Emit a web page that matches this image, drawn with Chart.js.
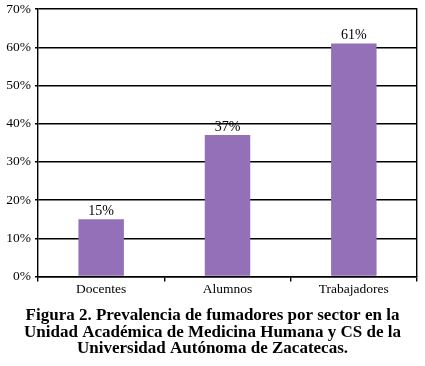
<!DOCTYPE html>
<html>
<head>
<meta charset="utf-8">
<script src="https://cdn.jsdelivr.net/npm/chart.js@4"></script>
<style>
  html, body { margin: 0; padding: 0; background: #fff; }
  #wrap { width: 425px; height: 366px; }
</style>
</head>
<body>
<div id="wrap"><canvas id="myChart" width="425" height="366"></canvas></div>
<script>
// Chart data
const sectors = ["Docentes", "Alumnos", "Trabajadores"];
const smokers = [15, 37, 61];
const yTicks = [0, 10, 20, 30, 40, 50, 60, 70];
const caption = [
  "Figura 2. Prevalencia de fumadores por sector en la",
  "Unidad Académica de Medicina Humana y CS de la",
  "Universidad Autónoma de Zacatecas."
];

const serif = "'Liberation Serif', 'Times New Roman', serif";

// draws "15%" etc. above each bar
const valueLabels = {
  id: "valueLabels",
  afterDatasetsDraw(chart) {
    const ctx = chart.ctx;
    const meta = chart.getDatasetMeta(0);
    ctx.save();
    ctx.font = "14px " + serif;
    ctx.fillStyle = "#000";
    ctx.textAlign = "center";
    ctx.textBaseline = "alphabetic";
    meta.data.forEach((bar, i) => {
      ctx.fillText(smokers[i] + "%", bar.x, bar.y - 4);
    });
    ctx.restore();
  },
};

const ctx = document.getElementById("myChart").getContext("2d");

new Chart(ctx, {
  type: "bar",
  data: {
    labels: sectors,
    datasets: [
      {
        data: smokers,
        backgroundColor: "#9370b7",
        borderWidth: 0,
        categoryPercentage: 1,
        barPercentage: 0.36,
      },
    ],
  },
  options: {
    responsive: false,
    animation: false,
    layout: { padding: { top: 0, left: 0, right: 0, bottom: 4 } },
    plugins: {
      legend: { display: false },
      tooltip: { enabled: false },
      title: {
        display: true,
        position: "bottom",
        text: caption,
        color: "#000",
        font: { family: serif, size: 17, weight: "bold", lineHeight: 0.97 },
        padding: { top: 9, bottom: 5 },
      },
    },
    scales: {
      x: {
        grid: {
          offset: true,
          drawOnChartArea: false,
          drawTicks: true,
          tickLength: 5,
          color: "#000",
          lineWidth: 1.4,
        },
        border: { color: "#000", width: 1.4 },
        ticks: { color: "#000", font: { family: serif, size: 13.5 }, padding: 0 },
        afterFit(scale) { scale.height = 22; },
      },
      y: {
        min: 0,
        max: 70,
        afterBuildTicks(scale) {
          scale.ticks = yTicks.map((v) => ({ value: v }));
        },
        grid: { color: "#000", lineWidth: 1.4, tickLength: 3 },
        border: { color: "#000", width: 1.4 },
        ticks: {
          color: "#000",
          font: { family: serif, size: 13.5 },
          padding: 4,
          callback: (v) => v + "%",
        },
        afterFit(scale) {
          scale.width = 38;
          scale.paddingTop = 9;
        },
      },
      y2: {
        position: "right",
        min: 0,
        max: 70,
        grid: { display: false },
        border: { color: "#000", width: 1.4 },
        ticks: { display: false },
        afterFit(scale) { scale.width = 8; },
      },
    },
  },
  plugins: [valueLabels],
});
</script>
</body>
</html>
